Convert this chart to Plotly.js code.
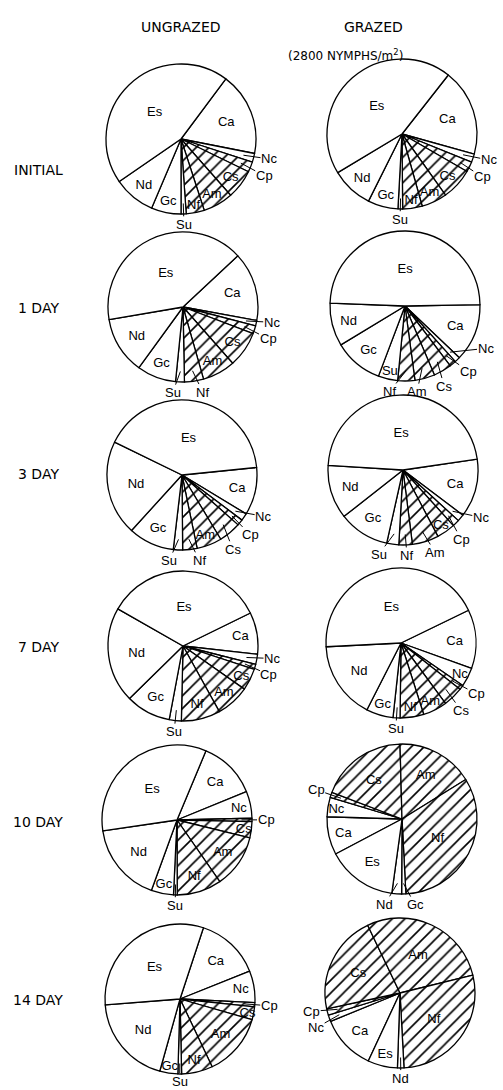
<!DOCTYPE html>
<html><head><meta charset="utf-8">
<script src="https://cdn.plot.ly/plotly-3.0.1.min.js"></script>
<style>html,body{margin:0;padding:0;background:#fff}#chart{width:503px;height:1090px}</style>
</head><body><div id="chart"></div><script>
// ---- DATA (percent of total) ----
const categories = ['Ca','Nc','Cp','Cs','Am','Nf','Su','Gc','Nd','Es'];
const rowLabels = ['INITIAL','1 DAY','3 DAY','7 DAY','10 DAY','14 DAY'];
const columnLabels = ['UNGRAZED','GRAZED'];
const grazedNote = '(2800 NYMPHS/m<sup>2</sup>)';

const ungrazedInitial = [17.9, 1.9, 2.2, 6.3, 6.5, 3.9, 1.1, 6.4, 9.0, 44.8];
const grazedInitial   = [18.7, 1.8, 2.2, 6.8, 5.5, 4.2, 1.0, 6.5, 9.0, 44.1];
const ungrazedDay1    = [14.8, 1.2, 1.7, 7.7, 7.1, 4.1, 1.9, 8.4, 12.3, 40.7];
const grazedDay1      = [12.4, 1.2, 1.4, 3.9, 4.3, 3.7, 4.2, 10.6, 9.3, 49.2];
const ungrazedDay3    = [10.3, 1.6, 1.3, 4.8, 5.4, 3.1, 2.0, 9.9, 20.5, 41.2];
const grazedDay3      = [12.6, 1.5, 1.5, 4.0, 5.7, 2.9, 2.6, 10.9, 11.6, 46.7];
const ungrazedDay7    = [9.0, 2.2, 1.1, 4.7, 7.2, 8.4, 2.6, 9.7, 20.6, 34.5];
const grazedDay7      = [12.7, 4.1, 1.0, 4.3, 5.2, 5.1, 1.5, 5.8, 16.7, 43.6];
const ungrazedDay10   = [12.5, 5.8, 0.7, 3.5, 11.5, 9.6, 0.8, 4.8, 17.1, 33.6];
const grazedDay10     = [8.2, 4.2, 1.1, 18.8, 16.6, 33.0, null, 0.9, 2.1, 15.1];
const ungrazedDay14   = [13.9, 6.8, 0.9, 2.8, 13.5, 6.7, 0.8, 3.9, 19.4, 31.3];
const grazedDay14     = [11.9, 1.4, 1.4, 21.3, 28.3, 28.0, null, null, 1.4, 6.4];

// ---- STYLE / LAYOUT ----
const W = 503, H = 1090, R = 75;
const hatched = ['Cp','Cs','Am','Nf'];
const FONT = 'Liberation Sans, Arial, sans-serif';
const panels = [
  {vals: ungrazedInitial, cx:181, cy:139, rot:36.7, out:['Nc','Cp','Su']},
  {vals: grazedInitial,   cx:402, cy:134, rot:38.1, out:['Nc','Cp','Su']},
  {vals: ungrazedDay1,    cx:183, cy:307, rot:47,   out:['Nc','Cp','Su','Nf']},
  {vals: grazedDay1,      cx:405, cy:306, rot:89,   out:['Nf','Am','Cs','Cp','Nc']},
  {vals: ungrazedDay3,    cx:182, cy:475, rot:84.2, out:['Nc','Cp','Cs','Su','Nf']},
  {vals: grazedDay3,      cx:403, cy:470, rot:81.7, out:['Nc','Cp','Su','Nf','Am']},
  {vals: ungrazedDay7,    cx:183, cy:646, rot:63.9, out:['Nc','Cp','Su']},
  {vals: grazedDay7,      cx:401, cy:643, rot:64.1, out:['Cp','Cs','Su']},
  {vals: ungrazedDay10,   cx:177, cy:820, rot:22.7, out:['Cp','Su']},
  {vals: grazedDay10,     cx:402, cy:819, rot:242.2, out:['Cp','Nd','Gc']},
  {vals: ungrazedDay14,   cx:180, cy:999, rot:18.2, out:['Cp','Su']},
  {vals: grazedDay14,     cx:400, cy:993, rot:205,  out:['Cp','Nc','Nd']}
];

function makePie(p) {
  const labels = [], values = [], pos = [], shapes = [], cols = [];
  categories.forEach((c, i) => {
    if (p.vals[i] == null) return;
    labels.push(c); values.push(p.vals[i]);
    pos.push(p.out.includes(c) ? 'none' : 'inside');
    shapes.push(hatched.includes(c) ? '/' : '');
    cols.push('white');
  });
  return {
    type: 'pie', labels: labels, values: values, sort: false, direction: 'clockwise',
    rotation: p.rot, textinfo: 'label', textposition: pos,
    insidetextorientation: 'horizontal',
    textfont: {family: FONT, size: 13, color: 'black'},
    insidetextfont: {family: FONT, size: 13, color: 'black'},
    marker: {colors: cols, line: {color: 'black', width: 1.3},
      pattern: {shape: shapes, fgcolor: 'black', bgcolor: 'white', size: 9, solidity: 0.18, fillmode: 'replace'}},
    domain: {x: [(p.cx - R) / W, (p.cx + R) / W], y: [1 - (p.cy + R) / H, 1 - (p.cy - R) / H]},
    hoverinfo: 'none', showlegend: false
  };
}

const rad = d => d * Math.PI / 180;
const norm = a => ((a % 360) + 360) % 360;
const sepFor = a => 10 + 10 * Math.pow(Math.cos(rad(a)), 2);

// outside labels with leader lines, placed at each slice's mid-angle (from the data)
function outsideLabels(p) {
  let total = 0; p.vals.forEach(v => { if (v != null) total += v; });
  let cum = 0; const items = [];
  categories.forEach((c, i) => {
    const v = p.vals[i]; if (v == null) return;
    const mid = norm(p.rot + 360 * (cum + v / 2) / total);
    cum += v;
    if (p.out.includes(c)) items.push({c: c, mid: mid, a: mid});
  });
  items.sort((x, y) => x.mid - y.mid);
  const place = cl => {
    const m = cl.reduce((s, it) => s + it.mid, 0) / cl.length;
    const s = sepFor(m);
    cl.forEach((it, j) => it.a = m + (j - (cl.length - 1) / 2) * s);
  };
  let clusters = items.map(it => [it]);
  clusters.forEach(place);
  let changed = true;
  while (changed) {
    changed = false;
    for (let k = 0; k < clusters.length - 1; k++) {
      const A = clusters[k], B = clusters[k + 1];
      const s = sepFor((A[A.length - 1].a + B[0].a) / 2);
      if (B[0].a - A[A.length - 1].a < s - 1e-6) {
        const merged = A.concat(B); place(merged);
        clusters.splice(k, 2, merged); changed = true; break;
      }
    }
  }
  return items.map(it => {
    const hx = p.cx + 0.86 * R * Math.sin(rad(it.mid));
    const hy = p.cy - 0.86 * R * Math.cos(rad(it.mid));
    const d = R + 3 + 11 * Math.abs(Math.sin(rad(it.a))) + 7 * Math.abs(Math.cos(rad(it.a)));
    const lx = p.cx + d * Math.sin(rad(it.a));
    const ly = Math.min(p.cy - d * Math.cos(rad(it.a)), H - 9);
    return {text: it.c, x: hx / W, y: 1 - hy / H, xref: 'paper', yref: 'paper',
      ax: lx - hx, ay: ly - hy, axref: 'pixel', ayref: 'pixel',
      showarrow: true, arrowhead: 0, arrowwidth: 1, arrowcolor: 'black', standoff: 0, startstandoff: 0,
      borderpad: 0, font: {family: FONT, size: 13, color: 'black'}};
  });
}

const traces = panels.map(makePie);

const rowY = [170, 308, 474, 647, 822, 1000];
const annFont = {family: 'DejaVu Sans, sans-serif', size: 14, color: 'black'};
let annotations = [];
rowLabels.forEach((t, i) => annotations.push({text: t, x: 38 / W, y: 1 - rowY[i] / H, xref: 'paper', yref: 'paper', showarrow: false, font: annFont, xanchor: 'center', yanchor: 'middle'}));
annotations.push({text: columnLabels[0], x: 181 / W, y: 1 - 17 / H, xref: 'paper', yref: 'paper', showarrow: false, font: annFont});
annotations.push({text: columnLabels[1], x: 405 / W, y: 1 - 17 / H, xref: 'paper', yref: 'paper', showarrow: false, font: annFont});
annotations.push({text: grazedNote, x: 405 / W, y: 1 - 45 / H, xref: 'paper', yref: 'paper', showarrow: false, font: {family: 'DejaVu Sans, sans-serif', size: 12, color: 'black'}});
panels.forEach(p => { annotations = annotations.concat(outsideLabels(p)); });

const layout = {
  width: W, height: H, margin: {l: 0, r: 0, t: 0, b: 0},
  paper_bgcolor: 'white', plot_bgcolor: 'white', showlegend: false,
  uniformtext: {minsize: 13, mode: 'show'},
  annotations: annotations
};
Plotly.newPlot('chart', traces, layout, {staticPlot: true, displayModeBar: false});
</script></body></html>
